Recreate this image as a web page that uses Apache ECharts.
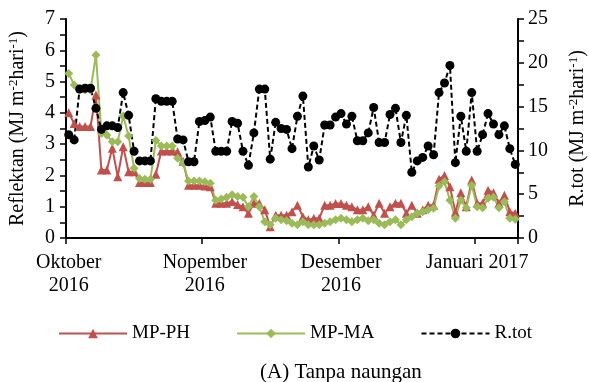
<!DOCTYPE html>
<html>
<head>
<meta charset="utf-8">
<script src="https://cdn.jsdelivr.net/npm/echarts@6/dist/echarts.min.js"></script>
<style>
  html, body { margin: 0; padding: 0; background: #fff; }
  #chart { width: 589px; height: 382px; }
</style>
</head>
<body>
<div id="chart"></div>
<script>
// daily observations, one per category
const days = Array.from({ length: 83 }, (_, i) => String(i + 1));
const monthTicks = [0, 25, 50, 75];
const monthLabels = ['Oktober\n2016', 'Nopember\n2016', 'Desember\n2016', 'Januari 2017'];

const mpPH = [
  4.0, 3.66, 3.56, 3.56, 3.56, 4.57, 2.17, 2.17, 2.87, 1.96,
  2.92, 2.12, 2.12, 1.77, 1.77, 1.77, 2.04, 2.78, 2.78, 2.78,
  2.76, 2.45, 1.69, 1.69, 1.69, 1.66, 1.64, 1.11, 1.11, 1.11,
  1.17, 1.07, 1.0, 0.79, 1.11, 1.11, 0.9, 0.36, 0.73, 0.73,
  0.73, 0.84, 1.05, 0.68, 0.58, 0.63, 0.63, 1.05, 1.05, 1.1,
  1.1, 1.05, 1.0, 0.9, 0.9, 1.0, 0.73, 1.11, 0.79, 1.0,
  1.11, 1.11, 0.79, 1.05, 0.79, 0.9, 1.05, 1.05, 1.88, 2.0,
  1.64, 0.82, 1.45, 1.0, 1.85, 1.11, 1.11, 1.53, 1.45, 1.11,
  1.37, 0.84, 0.79
];
const mpMA = [
  5.26, 4.89, 4.75, 4.73, 4.73, 5.85, 3.34, 3.29, 3.08, 3.08,
  3.9, 3.26, 2.23, 1.9, 1.88, 1.88, 3.12, 2.94, 2.94, 2.94,
  2.55, 2.4, 1.82, 1.82, 1.82, 1.8, 1.75, 1.21, 1.25, 1.3,
  1.38, 1.33, 1.3, 1.0, 1.33, 1.0, 0.52, 0.42, 0.63, 0.58,
  0.55, 0.47, 0.42, 0.52, 0.42, 0.42, 0.42, 0.47, 0.52, 0.58,
  0.63, 0.58, 0.52, 0.58, 0.63, 0.55, 0.58, 0.47, 0.42, 0.52,
  0.58, 0.42, 0.58, 0.68, 0.79, 0.84, 0.9, 0.95, 1.66, 1.8,
  1.21, 0.63, 1.21, 0.97, 1.69, 1.0, 0.97, 1.27, 1.3, 0.97,
  1.16, 0.63, 0.6
];
const rTot = [
  11.8, 11.2, 17.0, 17.1, 17.1, 14.8, 12.4, 12.8, 12.8, 12.6,
  16.6, 14.0, 9.9, 8.8, 8.8, 8.8, 15.9, 15.6, 15.6, 15.6,
  11.3, 11.2, 8.7, 8.7, 13.3, 13.4, 13.8, 9.9, 9.9, 9.9,
  13.3, 13.1, 9.9, 8.3, 12.0, 17.0, 17.0, 9.0, 13.2, 12.5,
  12.4, 10.2, 13.9, 16.2, 8.1, 10.5, 8.9, 12.9, 12.9, 13.8,
  14.2, 13.0, 13.9, 11.1, 11.1, 12.0, 14.9, 10.9, 10.9, 14.1,
  14.8, 10.9, 14.0, 7.5, 8.8, 9.2, 10.5, 9.5, 16.6, 17.7,
  19.7, 8.6, 13.9, 9.9, 16.6, 9.9, 11.8, 14.2, 13.0, 11.8,
  12.8, 10.2, 8.4
];

const font = '"Liberation Serif", "Times New Roman", serif';
const axisColor = '#000';

const unitName = (label) => label + ' (MJ m{sup|-2}hari{sup|-1})';
const nameRich = {
  sup: { fontSize: 13, fontFamily: font, color: '#000', verticalAlign: 'top', padding: [0, 0, 8, 0] }
};

const chart = echarts.init(document.getElementById('chart'));
chart.setOption({
  animation: false,
  textStyle: { fontFamily: font },
  title: {
    text: '(A) Tanpa naungan',
    left: 255,
    top: 357,
    textStyle: { fontFamily: font, fontSize: 21, fontWeight: 'normal', color: '#000' }
  },
  legend: {
    left: 53,
    top: 319,
    itemWidth: 68,
    itemHeight: 12,
    itemGap: 46,
    textStyle: { fontFamily: font, fontSize: 19, color: '#000' },
    data: ['MP-PH', 'MP-MA', 'R.tot']
  },
  grid: { left: 66, right: 71, top: 19, bottom: 144, outerBoundsMode: 'none' },
  xAxis: {
    type: 'category',
    data: days,
    boundaryGap: true,
    axisLine: { lineStyle: { color: axisColor, width: 2 } },
    axisTick: {
      show: true,
      length: 6,
      interval: (idx) => monthTicks.indexOf(idx) >= 0,
      lineStyle: { color: axisColor, width: 1.5 }
    },
    axisLabel: {
      interval: (idx) => monthTicks.indexOf(idx) >= 0,
      formatter: (val, idx) => monthLabels[monthTicks.indexOf(idx)] || '',
      fontFamily: font,
      fontSize: 20,
      lineHeight: 23,
      color: '#000',
      margin: 13
    },
    splitLine: { show: false }
  },
  yAxis: [
    {
      type: 'value',
      min: 0,
      max: 7,
      interval: 1,
      name: unitName('Reflektan'),
      nameLocation: 'middle',
      nameRotate: 90,
      nameGap: 38,
      nameTextStyle: { fontFamily: font, fontSize: 20, color: '#000', rich: nameRich },
      axisLine: { show: true, lineStyle: { color: axisColor, width: 2 } },
      axisTick: { show: true, length: 6, lineStyle: { color: axisColor, width: 1.5 } },
      minorTick: { show: true, splitNumber: 2, length: 6, lineStyle: { color: axisColor, width: 1.5 } },
      axisLabel: { fontFamily: font, fontSize: 20, color: '#000', margin: 11 },
      splitLine: { show: false }
    },
    {
      type: 'value',
      min: 0,
      max: 25,
      interval: 5,
      position: 'right',
      name: unitName('R.tot'),
      nameLocation: 'middle',
      nameRotate: 90,
      nameGap: 49,
      nameTextStyle: { fontFamily: font, fontSize: 20, color: '#000', rich: nameRich },
      axisLine: { show: true, lineStyle: { color: axisColor, width: 2 } },
      axisTick: { show: true, length: 6, lineStyle: { color: axisColor, width: 1.5 } },
      minorTick: { show: true, splitNumber: 2, length: 6, lineStyle: { color: axisColor, width: 1.5 } },
      axisLabel: { fontFamily: font, fontSize: 20, color: '#000', margin: 10 },
      splitLine: { show: false }
    }
  ],
  series: [
    {
      name: 'MP-PH',
      type: 'line',
      yAxisIndex: 0,
      data: mpPH,
      symbol: 'triangle',
      symbolSize: 9,
      showAllSymbol: true,
      color: '#C0504D',
      lineStyle: { width: 2, color: '#C0504D' }
    },
    {
      name: 'MP-MA',
      type: 'line',
      yAxisIndex: 0,
      data: mpMA,
      symbol: 'diamond',
      symbolSize: 9,
      showAllSymbol: true,
      color: '#9BBB59',
      lineStyle: { width: 2, color: '#9BBB59' }
    },
    {
      name: 'R.tot',
      type: 'line',
      yAxisIndex: 1,
      data: rTot,
      symbol: 'circle',
      symbolSize: 9,
      showAllSymbol: true,
      color: '#000',
      lineStyle: { width: 2, color: '#000', type: [5, 3] }
    }
  ]
});
</script>
</body>
</html>
